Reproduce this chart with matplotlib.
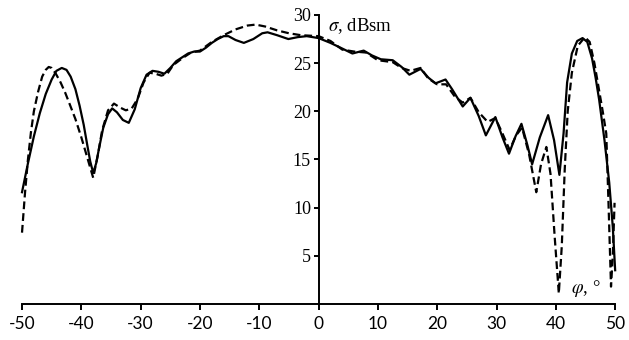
import matplotlib
matplotlib.use('Agg')
import matplotlib.pyplot as plt

plt.rcParams['mathtext.fontset'] = 'stix'

# solid curve (phi in degrees, sigma in dBsm)
phi_solid = [-50, -49, -48, -47, -46, -45, -44.2, -43.3, -42.5, -41.8, -41, -40.3, -39.6, -39,
             -38.5, -38, -37.5, -37, -36.3, -35.5, -34.8, -34, -33, -32, -31, -30, -29, -28,
             -27, -26, -25, -24, -23, -22, -21, -20, -19, -18, -17, -16, -15.2, -14, -12.6,
             -11, -9.5, -8.6, -7, -5.1, -3.5, -2, 0, 2, 3.7, 5.7, 7.6, 9, 10.5, 12.5, 14, 15.3,
             17.2, 18.5, 19.7, 21.4, 22.5, 24.3, 25.6, 27, 28.2, 29.8, 31, 32.1, 33.2, 34.2,
             35.2, 36, 37.3, 38.7, 39.7, 40.6, 41.3, 41.9, 42.7, 43.6, 44.5, 45.3, 46.1, 46.7,
             47.3, 48.2, 49, 49.6, 50]
sigma_solid = [11.6, 14.6, 17.4, 19.8, 21.8, 23.3, 24.2, 24.5, 24.3, 23.6, 22.3, 20.6, 18.6, 16.5,
               14.8, 13.6, 14.6, 16.2, 18.3, 19.7, 20.3, 19.9, 19.1, 18.8, 20.2, 22.4, 23.8, 24.2,
               24.1, 23.9, 24.5, 25.2, 25.6, 26.0, 26.2, 26.2, 26.6, 27.1, 27.5, 27.8, 27.8,
               27.4, 27.1, 27.5, 28.1, 28.2, 27.9, 27.5, 27.7, 27.8, 27.6, 27.1, 26.6, 26.0,
               26.3, 25.8, 25.4, 25.3, 24.6, 23.8, 24.4, 23.5, 22.9, 23.3, 22.3, 20.5, 21.4,
               19.5, 17.5, 19.4, 17.3, 15.6, 17.4, 18.7, 16.5, 14.5, 17.3, 19.6, 17.0, 13.4,
               17.7, 23.0, 26.0, 27.3, 27.6, 27.2, 25.5, 23.5, 21.2, 17.0, 12.6, 8.0, 3.5]

# dashed curve
phi_dash = [-50, -49.5, -49, -48.5, -48, -47.3, -46.6, -46, -45.5, -45, -44.3, -43.5, -42.7, -42,
            -41, -40, -39, -38, -37.2, -36.5, -35.5, -34.5, -33.5, -32.5, -31.5, -30.5, -29.5,
            -28.5, -27.5, -26.5, -25.5, -24.5, -23, -21.5, -20, -18, -16, -14, -12, -10.6, -9,
            -7, -5, -3, 0, 2, 4, 6, 8, 10, 12.5, 14, 15.5, 17.2, 18.5, 20, 21.5, 23, 24.3, 25.6,
            27, 28.5, 29.8, 31, 32.2, 33.3, 34.3, 35.5, 36.7, 37.5, 38.4, 39.1, 39.8, 40.5, 41.0,
            41.5, 42, 42.7, 43.7, 44.9, 45.7, 46.5, 47.2, 47.9, 48.5, 48.9, 49.3, 49.6, 49.9]
sigma_dash = [7.4, 11.5, 15.0, 17.8, 20.0, 22.0, 23.6, 24.3, 24.6, 24.5, 23.9, 23.0, 21.9, 20.8,
              19.2, 17.3, 15.2, 13.1, 15.5, 18.0, 20.1, 20.8, 20.4, 20.1, 20.3, 21.3, 23.0, 24.0,
              23.9, 23.7, 23.9, 24.8, 25.5, 26.1, 26.3, 27.2, 27.9, 28.5, 28.9, 29.0, 28.8, 28.4,
              28.1, 27.9, 27.8, 27.3, 26.4, 26.2, 26.1, 25.3, 25.1, 24.5, 24.2, 24.5, 23.4, 22.8,
              22.8, 21.5, 20.9, 21.4, 19.9, 18.9, 19.3, 17.7, 16.0, 17.5, 18.3, 15.5, 11.6, 14.5,
              16.3, 13.5, 7.0, 1.1, 6.0, 14.0, 20.0, 24.0, 26.8, 27.7, 27.2, 25.0, 22.5, 20.0,
              17.7, 10.0, 1.8, 5.0, 10.5]

x_ticks = [-50, -40, -30, -20, -10, 0, 10, 20, 30, 40, 50]
y_ticks = [5, 10, 15, 20, 25, 30]

fig = plt.figure(figsize=(6.29, 3.40), dpi=100)
ax = fig.add_axes([0.035, 0.106, 0.943, 0.85])

ax.plot(phi_solid, sigma_solid, color='black', lw=1.6, clip_on=False)
ax.plot(phi_dash, sigma_dash, color='black', lw=1.6, dashes=(3.5, 1.8), clip_on=False)

ax.set_xlim(-50, 50)
ax.set_ylim(0, 30)
ax.spines['left'].set_position(('data', 0))
ax.spines['top'].set_visible(False)
ax.spines['right'].set_visible(False)
for s in ['left', 'bottom']:
    ax.spines[s].set_linewidth(1.4)

ax.set_xticks(x_ticks)
ax.set_xticklabels([str(v) for v in x_ticks], family='Lato', fontsize=12.5)
ax.set_yticks(y_ticks)
ax.set_yticklabels([str(v) for v in y_ticks], family='Liberation Serif', fontsize=13)
ax.tick_params(axis='x', direction='out', length=4.5, width=1.4, pad=4)
ax.tick_params(axis='y', direction='out', length=3.5, width=1.4, pad=2)

ax.text(1.6, 28.8, r'$\sigma$, dBsm', family='Liberation Serif', fontsize=13.5, va='center')
ax.text(42.6, 1.6, r'$\varphi$, °', family='Liberation Serif', fontsize=13.5, va='center')

fig.savefig('out.png', dpi=100)
